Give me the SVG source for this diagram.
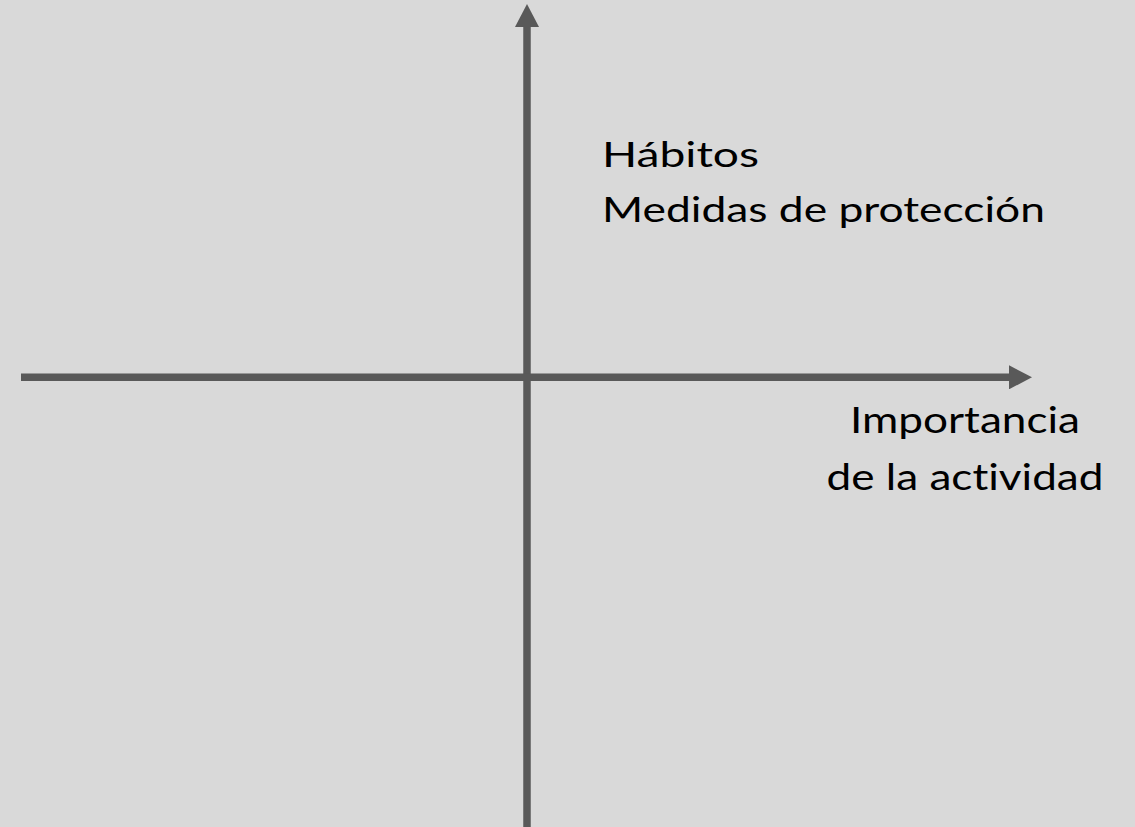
<svg xmlns="http://www.w3.org/2000/svg" width="1135" height="827" viewBox="0 0 1135 827">
  <style>
    .axis { stroke: #595959; stroke-width: 7.5; fill: none; }
    .lbl { font-family: Lato, "Open Sans", "Liberation Sans", sans-serif; fill: #000000; font-variant-ligatures: none; font-feature-settings: "liga" 0, "clig" 0; }
  </style>
  <defs>
    <marker id="arrow" viewBox="0 0 23 24" refX="0" refY="12" markerWidth="23" markerHeight="24" markerUnits="userSpaceOnUse" orient="auto">
      <path d="M0,0 L23,12 L0,24 Z" fill="#595959"/>
    </marker>
  </defs>
  <rect x="0" y="0" width="1135" height="827" fill="#d9d9d9"/>
  <g id="connectors">
    <line class="axis" x1="527" y1="827" x2="527" y2="27" marker-end="url(#arrow)"/>
    <line class="axis" x1="21" y1="377.3" x2="1009" y2="377.3" marker-end="url(#arrow)"/>
  </g>
  <g id="quadrant-label">
    <text class="lbl" x="602" y="167.3" font-size="34.5" textLength="157" lengthAdjust="spacingAndGlyphs">Hábitos</text>
    <text class="lbl" x="602" y="221.7" font-size="34.5" textLength="443" lengthAdjust="spacingAndGlyphs">Medidas de protección</text>
  </g>
  <g id="x-axis-label">
    <text class="lbl" x="965" y="433.3" font-size="37" text-anchor="middle" textLength="230" lengthAdjust="spacingAndGlyphs">Importancia</text>
    <text class="lbl" x="965" y="490" font-size="37" text-anchor="middle" textLength="277" lengthAdjust="spacingAndGlyphs">de la actividad</text>
  </g>
</svg>
